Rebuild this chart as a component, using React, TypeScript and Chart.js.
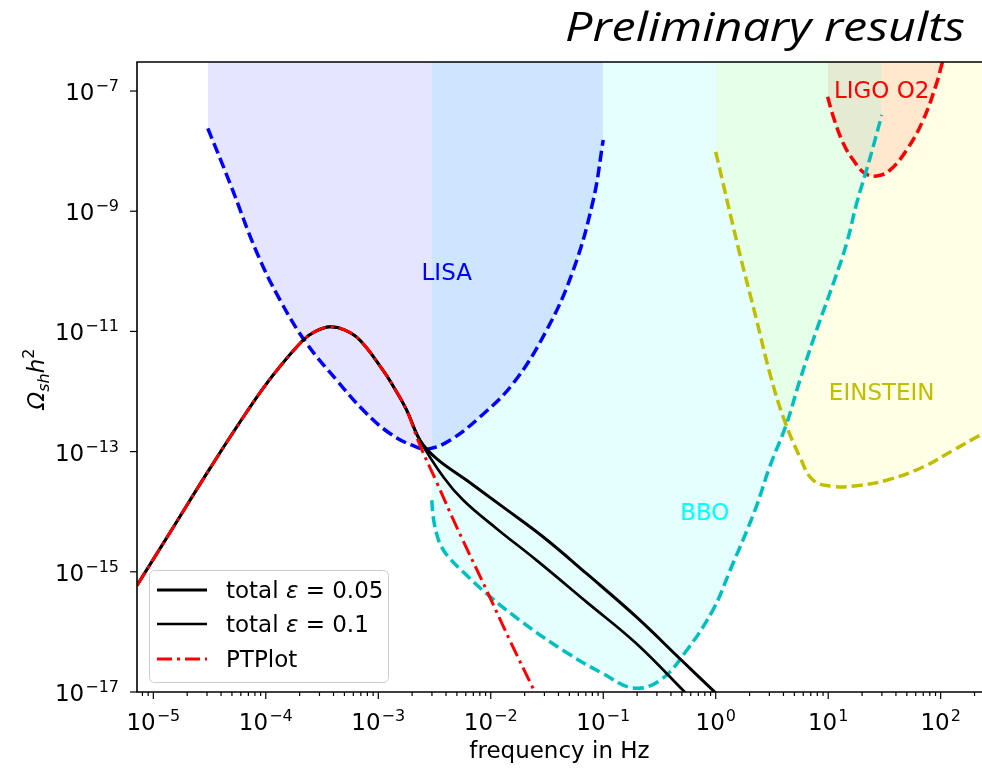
import React, { useEffect, useRef } from "react";
import { Chart, registerables } from "chart.js";

Chart.register(...registerables);

// ---------------- data ----------------
// common part of the three signal curves
const sharedFreq = [7.16e-6, 1.41e-5, 3.19e-5, 6.76e-5, 1.16e-4, 2.14e-4, 2.79e-4, 3.72e-4, 5.06e-4, 6.88e-4, 1.1e-3, 1.41e-3, 1.79e-3];
const sharedOmega = [5.94e-16, 4.53e-15, 5.27e-14, 4.56e-13, 1.87e-12, 7.13e-12, 1.01e-11, 1.19e-11, 1.05e-11, 7.13e-12, 2.26e-12, 1.09e-12, 4.88e-13];

const eps005Freq = [2.35e-3, 3.3e-3, 6.11e-3, 1.29e-2, 2.93e-2, 7.13e-2, 0.198, 0.481, 1.02];
const eps005Omega = [1.54e-13, 7.64e-14, 3.33e-14, 1.19e-14, 3.79e-15, 9.29e-16, 1.76e-16, 3.57e-17, 9.3e-18];

const eps01Freq = [2.35e-3, 3.79e-3, 5.7e-3, 1.13e-2, 2.56e-2, 7.13e-2, 0.198, 0.551];
const eps01Omega = [1.54e-13, 3.78e-14, 1.55e-14, 5.22e-15, 1.55e-15, 3.13e-16, 6.35e-17, 9.3e-18];

const ptFreq = [2.35e-3, 3.3e-3, 4.98e-3, 9.2e-3, 1.48e-2, 2.47e-2];
const ptOmega = [1.27e-13, 3.12e-14, 5.55e-15, 4.9e-16, 7.21e-17, 9.89e-18];

// detector sensitivity curves
const lisaFreq = [3.05e-5, 4.81e-5, 8.3e-5, 1.34e-4, 2.31e-4, 4.27e-4, 7.36e-4, 1.27e-3, 2.19e-3, 2.88e-3, 4.34e-3, 8.02e-3, 1.58e-2, 3.14e-2, 5.41e-2, 8.15e-2, 0.1];
const lisaOmega = [2.39e-8, 2.9e-9, 2.08e-10, 3.31e-11, 6.28e-12, 1.54e-12, 4.88e-13, 2.0e-13, 1.19e-13, 1.12e-13, 1.54e-13, 3.77e-13, 1.36e-12, 1.05e-11, 1.04e-10, 1.53e-9, 1.53e-8];

const bboFreq = [2.99e-3, 3.08e-3, 3.3e-3, 3.66e-3, 4.34e-3, 5.7e-3, 9.2e-3, 1.82e-2, 4.41e-2, 0.1, 0.185, 0.319, 0.551, 0.951, 1.34, 2.23, 3.03, 4.27, 5.6, 7.88, 11.1, 14.6, 17.9, 21.9, 25.1, 29.9];
const bboOmega = [1.55e-14, 8.15e-15, 4.31e-15, 2.58e-15, 1.65e-15, 9.89e-16, 4.31e-16, 1.55e-16, 4.91e-17, 2.01e-17, 1.17e-17, 1.56e-17, 4.91e-17, 2.37e-16, 1.05e-15, 1.05e-14, 5.69e-14, 2.92e-13, 1.54e-12, 1.05e-11, 6.28e-11, 2.94e-10, 1.35e-9, 4.83e-9, 1.18e-8, 3.98e-8];

const etFreq = [1.0, 1.58, 2.31, 3.03, 3.98, 5.6, 7.36, 11.1, 17.9, 33.0, 69.9, 129, 223, 273];
const etOmega = [9.75e-9, 2.55e-10, 1.54e-11, 1.99e-12, 3.77e-13, 8.13e-14, 3.33e-14, 2.64e-14, 2.71e-14, 3.33e-14, 5.55e-14, 1.05e-13, 1.87e-13, 2.26e-13];

const ligoFreq = [9.88, 11.1, 13.6, 16.7, 21.2, 26.9, 35.4, 49.8, 69.9, 92.0, 102, 108];
const ligoOmega = [8.04e-8, 3.73e-8, 1.35e-8, 7.1e-9, 4.26e-9, 3.84e-9, 4.83e-9, 1.04e-8, 3.29e-8, 1.34e-7, 2.71e-7, 4.0e-7];

// axes
const xMin = 7.16e-6;
const xMax = 233;
const yMin = 1e-17;
const yMax = 3.04e-7;
const xTickExponents = [-5, -4, -3, -2, -1, 0, 1, 2];
const yTickExponents = [-17, -15, -13, -11, -9, -7];

// text
const titleText = "Preliminary results";
const xLabel = "frequency in Hz";
const legendItems = [
  { prefix: "total ", sym: "ε", suffix: " = 0.05", color: "#000000", dash: [] as number[], width: 3 },
  { prefix: "total ", sym: "ε", suffix: " = 0.1", color: "#000000", dash: [] as number[], width: 2.7 },
  { prefix: "PTPlot", sym: "", suffix: "", color: "#ff0000", dash: [15, 5, 3, 5], width: 3 },
];
const detectorLabels = [
  { text: "LISA", f: 4.06e-3, o: 7.1e-11, color: "#0000ff" },
  { text: "BBO", f: 0.8, o: 7.18e-15, color: "#00ffff" },
  { text: "EINSTEIN", f: 29.9, o: 7.35e-13, color: "#bfbf00" },
  { text: "LIGO O2", f: 29.9, o: 7.56e-8, color: "#ff0000" },
];

const FONT = '"DejaVu Sans", sans-serif';

function pts(f: number[], o: number[]) {
  return f.map((x, i) => ({ x, y: o[i] }));
}

function drawPow(ctx: CanvasRenderingContext2D, exp: number, x: number, baseline: number, align: "center" | "right") {
  const base = "10";
  const sup = exp < 0 ? "\u2212" + Math.abs(exp) : String(exp);
  ctx.font = `23px ${FONT}`;
  const wb = ctx.measureText(base).width;
  ctx.font = `16px ${FONT}`;
  const ws = ctx.measureText(sup).width;
  const total = wb + ws + 1;
  const x0 = align === "center" ? x - total / 2 : x - total;
  ctx.textAlign = "left";
  ctx.textBaseline = "alphabetic";
  ctx.font = `23px ${FONT}`;
  ctx.fillText(base, x0, baseline);
  ctx.font = `16px ${FONT}`;
  ctx.fillText(sup, x0 + wb + 1, baseline - 9);
}

const decorPlugin = {
  id: "decor",
  afterDraw(chart: any) {
    const ctx: CanvasRenderingContext2D = chart.ctx;
    const { left, right, top, bottom } = chart.chartArea;
    const xs = chart.scales.x;
    const ys = chart.scales.y;
    ctx.save();

    // detector labels
    ctx.textAlign = "center";
    ctx.textBaseline = "alphabetic";
    ctx.font = `23px ${FONT}`;
    for (const d of detectorLabels) {
      ctx.fillStyle = d.color;
      ctx.fillText(d.text, xs.getPixelForValue(d.f), ys.getPixelForValue(d.o));
    }

    // legend
    const lx0 = left + 12;
    const ly0 = bottom - 122;
    const lw = 239;
    const lh = 112;
    ctx.beginPath();
    (ctx as any).roundRect(lx0 + 0.5, ly0 + 0.5, lw, lh, 5);
    ctx.fillStyle = "rgba(255,255,255,0.8)";
    ctx.fill();
    ctx.strokeStyle = "#cccccc";
    ctx.lineWidth = 1;
    ctx.stroke();
    const rowY = [20, 54, 89];
    legendItems.forEach((it, i) => {
      const y = ly0 + rowY[i];
      ctx.beginPath();
      ctx.setLineDash(it.dash);
      ctx.strokeStyle = it.color;
      ctx.lineWidth = it.width;
      ctx.moveTo(lx0 + 8, y);
      ctx.lineTo(lx0 + 58, y);
      ctx.stroke();
      ctx.setLineDash([]);
      ctx.fillStyle = "#000";
      ctx.textAlign = "left";
      let tx = lx0 + 77;
      ctx.font = `23px ${FONT}`;
      ctx.fillText(it.prefix, tx, y + 8);
      tx += ctx.measureText(it.prefix).width;
      if (it.sym) {
        ctx.font = `italic 23px ${FONT}`;
        ctx.fillText(it.sym, tx, y + 8);
        tx += ctx.measureText(it.sym).width;
        ctx.font = `23px ${FONT}`;
        ctx.fillText(it.suffix, tx, y + 8);
      }
    });

    // frame (left, top, bottom spines; the right one lies past the picture edge)
    ctx.strokeStyle = "#000";
    ctx.lineWidth = 1.6;
    ctx.beginPath();
    ctx.moveTo(right + 2, top);
    ctx.lineTo(left, top);
    ctx.lineTo(left, bottom);
    ctx.lineTo(right + 2, bottom);
    ctx.stroke();

    // x ticks
    ctx.lineWidth = 1.2;
    ctx.fillStyle = "#000";
    for (let e = -6; e <= 2; e++) {
      for (let k = 1; k <= 9; k++) {
        const v = k * Math.pow(10, e);
        if (v < xMin || v > xMax) continue;
        const px = xs.getPixelForValue(v);
        const len = k === 1 ? 7 : 4;
        ctx.beginPath();
        ctx.moveTo(px, bottom);
        ctx.lineTo(px, bottom + len);
        ctx.stroke();
      }
    }
    for (const e of xTickExponents) {
      const px = xs.getPixelForValue(Math.pow(10, e));
      drawPow(ctx, e, px, bottom + 38, "center");
    }
    // y ticks
    for (const e of yTickExponents) {
      const py = ys.getPixelForValue(Math.pow(10, e));
      ctx.beginPath();
      ctx.moveTo(left, py);
      ctx.lineTo(left - 7, py);
      ctx.stroke();
      drawPow(ctx, e, left - 18, py + 9, "right");
    }

    // x label
    ctx.font = `23px ${FONT}`;
    ctx.textAlign = "center";
    ctx.fillText(xLabel, (left + right) / 2, bottom + 66);

    // y label  Ω_sh h^2
    ctx.save();
    ctx.translate(0, (top + bottom) / 2 + 2);
    ctx.rotate(-Math.PI / 2);
    const pieces = [
      { t: "Ω", f: `italic 23px ${FONT}`, dy: 0 },
      { t: "sh", f: `italic 16px ${FONT}`, dy: 5 },
      { t: "h", f: `italic 23px ${FONT}`, dy: 0 },
      { t: "2", f: `16px ${FONT}`, dy: -10 },
    ];
    let tw = 0;
    for (const p of pieces) {
      ctx.font = p.f;
      tw += ctx.measureText(p.t).width;
    }
    let ux = -tw / 2;
    ctx.textAlign = "left";
    for (const p of pieces) {
      ctx.font = p.f;
      ctx.fillText(p.t, ux, 44 + p.dy);
      ux += ctx.measureText(p.t).width;
    }
    ctx.restore();

    // title
    ctx.save();
    ctx.font = `italic 40px "Open Sans", "Liberation Sans", sans-serif`;
    const w = ctx.measureText(titleText).width;
    const target = 400;
    const sx = target / w;
    ctx.translate(965, 41);
    ctx.scale(sx, 1);
    ctx.textAlign = "right";
    ctx.fillStyle = "#000";
    ctx.fillText(titleText, 0, 0);
    ctx.restore();

    ctx.restore();
  },
};

export default function App() {
  const ref = useRef<HTMLCanvasElement>(null);
  useEffect(() => {
    const common = { pointRadius: 0, tension: 0.4 };
    const chart = new Chart(ref.current as HTMLCanvasElement, {
      type: "line",
      data: {
        datasets: [
          {
            label: "PTPlot",
            data: pts([...sharedFreq, ...ptFreq], [...sharedOmega, ...ptOmega]),
            borderColor: "#ff0000",
            borderWidth: 3,
            borderDash: [15, 5, 3, 5],
            fill: false,
            order: 0,
            ...common,
          },
          {
            label: "total ε = 0.05",
            data: pts([...sharedFreq, ...eps005Freq], [...sharedOmega, ...eps005Omega]),
            borderColor: "#000000",
            borderWidth: 3,
            fill: false,
            order: 1,
            ...common,
          },
          {
            label: "total ε = 0.1",
            data: pts([...sharedFreq, ...eps01Freq], [...sharedOmega, ...eps01Omega]),
            borderColor: "#000000",
            borderWidth: 2.7,
            fill: false,
            order: 2,
            ...common,
          },
          {
            label: "LISA",
            data: pts(lisaFreq, lisaOmega),
            borderColor: "#0000ff",
            borderWidth: 3.5,
            borderDash: [11, 5],
            fill: "end",
            backgroundColor: "rgba(0,0,255,0.1)",
            order: 3,
            ...common,
          },
          {
            label: "BBO",
            data: pts(bboFreq, bboOmega),
            borderColor: "#00bfbf",
            borderWidth: 3.5,
            borderDash: [11, 5],
            fill: "end",
            backgroundColor: "rgba(0,255,255,0.1)",
            order: 4,
            ...common,
          },
          {
            label: "EINSTEIN",
            data: pts(etFreq, etOmega),
            borderColor: "#bfbf00",
            borderWidth: 3.5,
            borderDash: [11, 5],
            fill: "end",
            backgroundColor: "rgba(255,255,0,0.1)",
            order: 5,
            ...common,
          },
          {
            label: "LIGO O2",
            data: pts(ligoFreq, ligoOmega),
            borderColor: "#ff0000",
            borderWidth: 3.5,
            borderDash: [11, 5],
            fill: "end",
            backgroundColor: "rgba(255,0,0,0.1)",
            order: 6,
            ...common,
          },
        ],
      },
      options: {
        responsive: false,
        animation: false,
        events: [],
        layout: { padding: { left: 137, top: 62, right: 0, bottom: 79 } },
        scales: {
          x: { type: "logarithmic", min: xMin, max: xMax, display: false },
          y: { type: "logarithmic", min: yMin, max: yMax, display: false },
        },
        plugins: {
          legend: { display: false },
          tooltip: { enabled: false },
          filler: { drawTime: "beforeDatasetsDraw" },
        } as any,
      },
      plugins: [decorPlugin],
    });
    return () => chart.destroy();
  }, []);
  return (
    <div style={{ position: "absolute", left: 0, top: 0, width: 982, height: 771, background: "#ffffff" }}>
      <canvas ref={ref} width={982} height={771} style={{ display: "block", width: 982, height: 771 }} />
    </div>
  );
}
